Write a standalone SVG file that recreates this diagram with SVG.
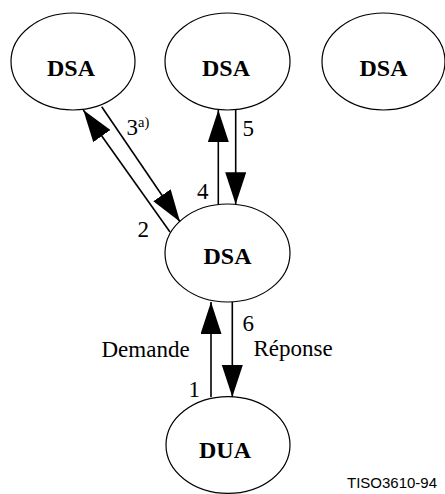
<svg xmlns="http://www.w3.org/2000/svg" width="445" height="494" viewBox="0 0 445 494">
<style>
.node ellipse{fill:#fff;stroke:#000;stroke-width:1.2}
.node text{font-family:"Liberation Serif","Times New Roman",serif;font-weight:bold;font-size:24px;text-anchor:middle;fill:#000}
.conn line{stroke:#000;stroke-width:1.6}
.lbl{font-family:"Liberation Serif","Times New Roman",serif;font-size:23px;fill:#000}
.sup{font-family:"Liberation Serif","Times New Roman",serif;font-size:14.5px;fill:#000}
.ref{font-family:"Liberation Sans",Arial,sans-serif;font-size:15px;fill:#000}
</style>
<defs>
<marker id="ah" markerUnits="userSpaceOnUse" markerWidth="32" markerHeight="22" refX="32" refY="10.5" orient="auto">
<path d="M0,0 L32,10.5 L0,21 z" fill="#000"/>
</marker>
</defs>
<rect width="445" height="494" fill="#fff"/>
<g id="dsa-top-left" class="node"><ellipse cx="73" cy="61.5" rx="62" ry="48.5"/><text x="71" y="75.5">DSA</text></g>
<g id="dsa-top-mid" class="node"><ellipse cx="227.5" cy="61.5" rx="62.5" ry="48.5"/><text x="226" y="75.5">DSA</text></g>
<g id="dsa-top-right" class="node"><ellipse cx="383.5" cy="61.5" rx="61.5" ry="48.5"/><text x="383.5" y="75.5">DSA</text></g>
<g id="dsa-mid" class="node"><ellipse cx="227.5" cy="253" rx="62.5" ry="49"/><text x="227.5" y="264">DSA</text></g>
<g id="dua" class="node"><ellipse cx="228" cy="445" rx="62" ry="48.3"/><text x="225" y="458">DUA</text></g>
<g id="connectors" class="conn">
<line x1="170" y1="232" x2="83.3" y2="110" marker-end="url(#ah)"/>
<line x1="101.7" y1="106.7" x2="180" y2="221.7" marker-end="url(#ah)"/>
<line x1="218.3" y1="204.5" x2="218.3" y2="110" marker-end="url(#ah)"/>
<line x1="235.7" y1="110" x2="235.7" y2="204.3" marker-end="url(#ah)"/>
<line x1="211" y1="397" x2="211" y2="302" marker-end="url(#ah)"/>
<line x1="232.3" y1="302" x2="232.3" y2="397" marker-end="url(#ah)"/>
</g>
<g id="labels">
<text class="lbl" x="126.5" y="135">3</text><text class="sup" x="138" y="127">a)</text>
<text class="lbl" x="242.5" y="135.5">5</text>
<text class="lbl" x="197" y="199">4</text>
<text class="lbl" x="137.5" y="237">2</text>
<text class="lbl" x="242.5" y="331">6</text>
<text class="lbl" x="188.5" y="397">1</text>
<text class="lbl" x="101.5" y="357">Demande</text>
<text class="lbl" x="253.5" y="356">Réponse</text>
<text class="ref" x="347" y="488">TISO3610-94</text>
</g>
</svg>
